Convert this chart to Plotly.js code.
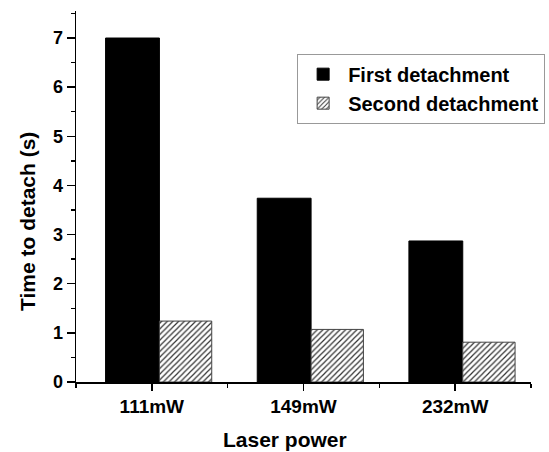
<!DOCTYPE html>
<html>
<head>
<meta charset="utf-8">
<script src="https://cdn.plot.ly/plotly-3.0.1.min.js"></script>
<style>html,body{margin:0;padding:0;background:#fff;}#chart{width:549px;height:452px;}</style>
</head>
<body>
<div id="chart"></div>
<script>
const categories = ["111mW", "149mW", "232mW"];
const firstDetachment = [7.0, 3.74, 2.87];
const secondDetachment = [1.24, 1.07, 0.81];
const seriesNames = ["First detachment", "Second detachment"];
const yTickVals = [0, 1, 2, 3, 4, 5, 6, 7];

const xIdx = categories.map((_, i) => i);
const FONT = "Arial, 'Liberation Sans', sans-serif";

const traces = [
  {
    type: "bar", name: seriesNames[0], x: xIdx, y: firstDetachment,
    width: 0.355, offset: -0.305,
    marker: { color: "#000000", line: { color: "#000000", width: 1 } }
  },
  {
    type: "bar", name: seriesNames[1], x: xIdx, y: secondDetachment,
    width: 0.345, offset: 0.05,
    marker: {
      color: "#ffffff",
      line: { color: "#444444", width: 1 },
      pattern: { shape: "/", size: 4, solidity: 0.3, fgcolor: "#333333", bgcolor: "#ffffff" }
    }
  }
];

const layout = {
  width: 549, height: 452,
  margin: { l: 76, r: 18, t: 11, b: 70, autoexpand: false },
  paper_bgcolor: "#ffffff", plot_bgcolor: "#ffffff",
  font: { family: FONT, color: "#000", size: 18 },
  barmode: "overlay",
  showlegend: true,
  legend: {
    x: 0.486, y: 0.885, xanchor: "left", yanchor: "top",
    bordercolor: "#999999", borderwidth: 1, bgcolor: "#ffffff",
    font: { family: FONT, size: 20, color: "#000", weight: "bold" },
    itemwidth: 40, tracegroupgap: 0
  },
  xaxis: {
    type: "linear", range: [-0.5, 2.5],
    tickmode: "array", tickvals: xIdx, ticktext: categories,
    ticks: "outside", ticklen: 7, tickwidth: 1.5, tickcolor: "#000",
    minor: { tickmode: "array", tickvals: [-0.5, 0.5, 1.5, 2.5], ticks: "outside", ticklen: 4, tickwidth: 1.5, tickcolor: "#000" },
    showline: true, linecolor: "#000", linewidth: 1.5,
    showgrid: false, zeroline: false,
    tickfont: { family: FONT, size: 19, weight: "bold" },
    automargin: false
  },
  yaxis: {
    range: [0, 7.55],
    tickmode: "array", tickvals: yTickVals,
    ticks: "outside", ticklen: 8, tickwidth: 1.5, tickcolor: "#000",
    minor: { dtick: 0.5, tick0: 0, ticks: "outside", ticklen: 4, tickwidth: 1.5, tickcolor: "#000" },
    showline: true, linecolor: "#000", linewidth: 1.5,
    showgrid: false, zeroline: false,
    tickfont: { family: FONT, size: 18, weight: "bold" },
    automargin: false
  },
  annotations: [
    {
      text: "Time to detach (s)", xref: "paper", yref: "paper",
      x: -0.1055, y: 0.434, xanchor: "center", yanchor: "middle",
      textangle: -90, showarrow: false,
      font: { family: FONT, size: 21, weight: "bold", color: "#000" }
    },
    {
      text: "Laser power", xref: "paper", yref: "paper",
      x: 0.459, y: -0.156, xanchor: "center", yanchor: "middle",
      showarrow: false,
      font: { family: FONT, size: 21, weight: "bold", color: "#000" }
    }
  ]
};

Plotly.newPlot("chart", traces, layout, { displayModeBar: false, staticPlot: true });
</script>
</body>
</html>
